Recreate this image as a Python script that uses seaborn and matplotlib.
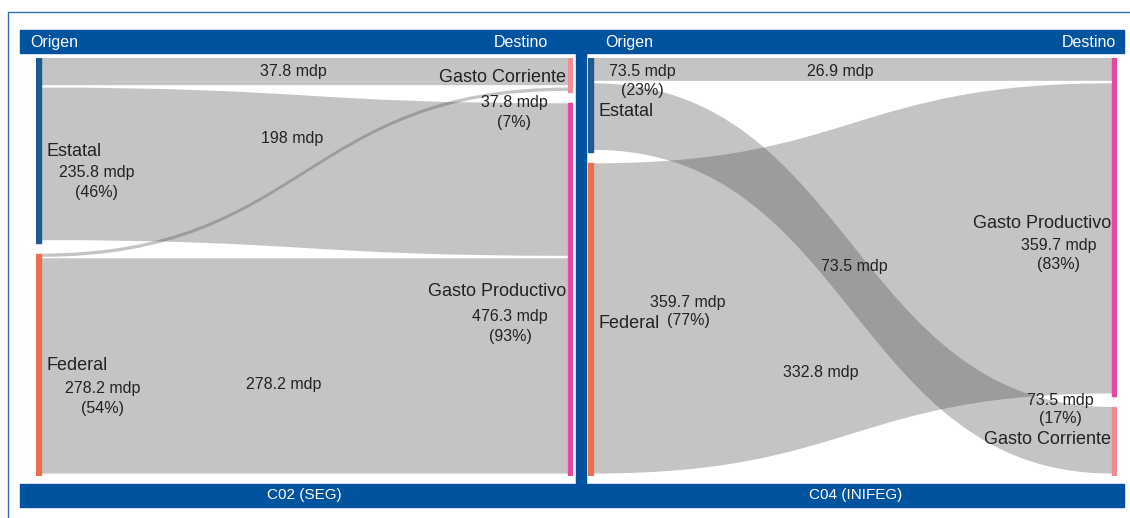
import matplotlib.pyplot as plt
import seaborn as sns
from matplotlib.path import Path
from matplotlib.patches import PathPatch, Rectangle

sns.set_theme(style="white")
plt.rcParams['font.family'] = ['Liberation Sans', 'DejaVu Sans']

# ---- data: C02 (SEG) ----
seg_left = ["Estatal", "Federal"]
seg_right = ["Gasto Corriente", "Gasto Productivo"]
seg_src = ["Estatal", "Estatal", "Federal", "Federal"]
seg_dst = ["Gasto Corriente", "Gasto Productivo", "Gasto Corriente", "Gasto Productivo"]
seg_val = [37.8, 198.0, 6.0, 278.2]
seg_link_txt = ["37.8 mdp", "198 mdp", "", "278.2 mdp"]
seg_left_txt = ["235.8 mdp\n(46%)", "278.2 mdp\n(54%)"]
seg_right_txt = ["37.8 mdp\n(7%)", "476.3 mdp\n(93%)"]

# ---- data: C04 (INIFEG) ----
inifeg_left = ["Estatal", "Federal"]
inifeg_right = ["Gasto Productivo", "Gasto Corriente"]
inifeg_src = ["Estatal", "Estatal", "Federal"]
inifeg_dst = ["Gasto Productivo", "Gasto Corriente", "Gasto Productivo"]
inifeg_val = [26.9, 73.5, 332.8]
inifeg_link_txt = ["26.9 mdp", "73.5 mdp", "332.8 mdp"]
inifeg_left_txt = ["73.5 mdp\n(23%)", "359.7 mdp\n(77%)"]
inifeg_right_txt = ["359.7 mdp\n(83%)", "73.5 mdp\n(17%)"]

node_colors = {"Estatal": "#1d5b8f", "Federal": "#ec6f4c",
               "Gasto Productivo": "#e8489b", "Gasto Corriente": "#f28b93"}
BLUE = "#00539f"
TXT = "#222222"
W, H = 1130, 518
NODE_W = 0.0095

fig = plt.figure(figsize=(W / 100, H / 100), dpi=100)
fig.patch.set_facecolor("white")


def fx(x, y):
    return x / W, 1 - y / H


def put(x, y, s, **kw):
    kw.setdefault("color", TXT)
    kw.setdefault("va", "center")
    kw.setdefault("ha", "center")
    fig.text(*fx(x, y), s, **kw)


def put_lines(x, y, s, step=20, **kw):
    # value on the first line, share on the second
    for k, line in enumerate(s.split("\n")):
        put(x, y + k * step, line, **kw)


def frect(x0, y0, x1, y1, color):
    fig.patches.append(Rectangle(fx(x0, y1), (x1 - x0) / W, (y1 - y0) / H,
                                 transform=fig.transFigure, color=color, zorder=0))


def sankey(box, left, right, src, dst, val):
    x0, y0, x1, y1 = box
    ax = fig.add_axes([x0 / W, 1 - y1 / H, (x1 - x0) / W, (y1 - y0) / H])
    total = sum(val)
    gap = total * 11 / 407
    ax.set_xlim(0, 1)
    ax.set_ylim(total + gap, 0)
    ax.axis("off")

    def stack(nodes, key):
        pos, y = {}, 0.0
        for n in nodes:
            h = sum(v for k, v in zip(key, val) if k == n)
            pos[n] = [y, h]
            y += h + gap
        return pos

    lpos, rpos = stack(left, src), stack(right, dst)
    for pos, xn in ((lpos, 0), (rpos, 1 - NODE_W)):
        for n, (yy, h) in pos.items():
            ax.add_patch(Rectangle((xn, yy), NODE_W, h, color=node_colors[n], zorder=3))

    # links ordered by target order at source, by source order at target
    order = sorted(range(len(val)), key=lambda i: (left.index(src[i]), right.index(dst[i])))
    s_off = {n: p[0] for n, p in lpos.items()}
    t_off = {n: p[0] for n, p in rpos.items()}
    for i in order:
        v = val[i]
        shrink = min(total * 0.006, v * 0.3)
        s0 = s_off[src[i]]
        t0 = t_off[dst[i]]
        s_off[src[i]] += v
        t_off[dst[i]] += v
        s1, t1 = s0 + v - shrink, t0 + v - shrink
        a, b, m = NODE_W, 1 - NODE_W, 0.5
        verts = [(a, s0), (m, s0), (m, t0), (b, t0), (b, t1), (m, t1), (m, s1), (a, s1), (a, s0)]
        codes = [Path.MOVETO] + [Path.CURVE4] * 3 + [Path.LINETO] + [Path.CURVE4] * 3 + [Path.CLOSEPOLY]
        ax.add_patch(PathPatch(Path(verts, codes), facecolor="#4a4a4a", alpha=0.32,
                               edgecolor="none", zorder=2))
    return ax


# frame, header, footer and divider
fig.add_artist(plt.Line2D([8 / W, 1], [1 - 12 / H] * 2, transform=fig.transFigure, color="#2c6fb5", lw=1))
fig.add_artist(plt.Line2D([8 / W] * 2, [0, 1 - 12 / H], transform=fig.transFigure, color="#2c6fb5", lw=1))
frect(20, 30, 1124, 53, BLUE)
frect(20, 484, 1124, 507, BLUE)
frect(576, 53, 586, 484, BLUE)

sankey((36, 58, 573, 476), seg_left, seg_right, seg_src, seg_dst, seg_val)
sankey((588, 58, 1117, 476), inifeg_left, inifeg_right, inifeg_src, inifeg_dst, inifeg_val)

# header / footer text
hf = dict(color="white", fontsize=11.5)
put(30, 42, "Origen", ha="left", **hf)
put(548, 42, "Destino", ha="right", **hf)
put(605, 42, "Origen", ha="left", **hf)
put(1116, 42, "Destino", ha="right", **hf)
put(304, 495, "C02 (SEG)", color="white", fontsize=11)
put(856, 495, "C04 (INIFEG)", color="white", fontsize=11)

NAME_FS, VAL_FS = 13, 11.5

# C02 labels
for s, (x, y) in zip(seg_link_txt, [(293, 72), (292, 138), (0, 0), (284, 385)]):
    if s:
        put(x, y, s, fontsize=VAL_FS)
for n, (x, y) in zip(seg_left, [(46, 151), (46, 366)]):
    put(x, y, n, ha="left", fontsize=NAME_FS)
for s, (x, y) in zip(seg_left_txt, [(97, 173), (103, 388)]):
    put_lines(x, y, s, fontsize=VAL_FS)
for n, (x, y) in zip(seg_right, [(566, 77), (566, 292)]):
    put(x, y, n, ha="right", fontsize=NAME_FS)
for s, (x, y) in zip(seg_right_txt, [(514, 103), (510, 316)]):
    put_lines(x, y, s, fontsize=VAL_FS)

# C04 labels
for s, (x, y) in zip(inifeg_link_txt, [(840, 72), (854, 266), (821, 372)]):
    put(x, y, s, fontsize=VAL_FS)
for n, (x, y) in zip(inifeg_left, [(598, 112), (599, 324)]):
    put(x, y, n, ha="left", fontsize=NAME_FS)
for s, (x, y) in zip(inifeg_left_txt, [(642, 72), (688, 302)]):
    put_lines(x, y, s, step=19, fontsize=VAL_FS)
for n, (x, y) in zip(inifeg_right, [(1111, 224), (1111, 439)]):
    put(x, y, n, ha="right", fontsize=NAME_FS)
for s, (x, y) in zip(inifeg_right_txt, [(1059, 246), (1060, 400)]):
    put_lines(x, y, s, step=19, fontsize=VAL_FS)

fig.savefig("out.png", dpi=100, facecolor="white")
